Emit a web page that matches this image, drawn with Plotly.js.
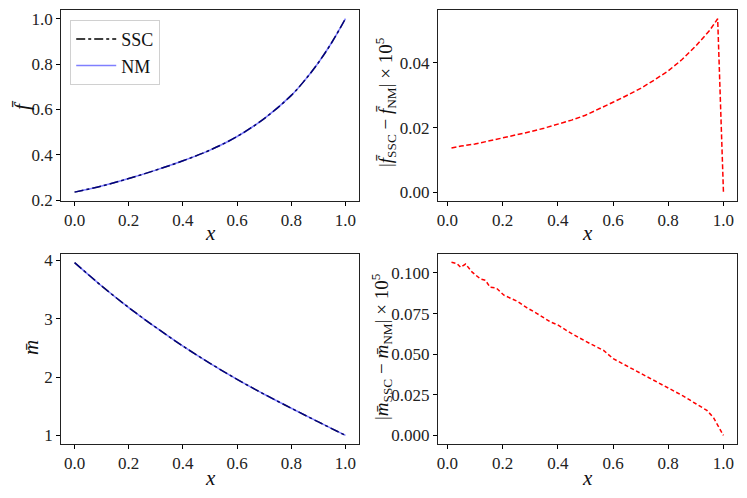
<!DOCTYPE html>
<html>
<head>
<meta charset="utf-8">
<script src="https://cdn.plot.ly/plotly-3.0.1.min.js"></script>
<style>html,body{margin:0;padding:0;background:#fff;}#chart{width:747px;height:498px;}</style>
</head>
<body>
<div id="chart"></div>
<script>
// ---- data ----
const xF = [0, 0.1, 0.2, 0.3, 0.4, 0.5, 0.6, 0.7, 0.8, 0.85, 0.9, 0.95, 1.0];
const fSSC = [0.236, 0.263, 0.296, 0.333, 0.374, 0.421, 0.481, 0.560, 0.662, 0.729, 0.806, 0.896, 1.0];
const fNM  = [0.236, 0.263, 0.296, 0.333, 0.374, 0.421, 0.481, 0.560, 0.662, 0.729, 0.806, 0.896, 1.0];

const xM = [0, 0.1, 0.2, 0.3, 0.4, 0.5, 0.6, 0.7, 0.8, 0.9, 1.0];
const mSSC = [3.96, 3.56, 3.19, 2.85, 2.53, 2.235, 1.96, 1.705, 1.465, 1.23, 1.00];
const mNM  = [3.96, 3.56, 3.19, 2.85, 2.53, 2.235, 1.96, 1.705, 1.465, 1.23, 1.00];

const xFerr = [0.015, 0.05, 0.1, 0.15, 0.2, 0.25, 0.3, 0.35, 0.4, 0.45, 0.5, 0.55, 0.6, 0.65, 0.7, 0.75, 0.8, 0.85, 0.9, 0.95, 0.979, 1.0];
const fErr  = [0.0137, 0.0143, 0.0149, 0.0158, 0.0168, 0.0177, 0.0187, 0.0198, 0.0210, 0.0223, 0.0238, 0.0257, 0.0278, 0.0299, 0.0321, 0.0347, 0.0375, 0.0410, 0.0452, 0.0500, 0.0536, 0.0];

const xMerr = [0.015, 0.035, 0.048, 0.066, 0.09, 0.12, 0.138, 0.155, 0.177, 0.205, 0.253, 0.289, 0.325, 0.375, 0.398, 0.446, 0.5, 0.566, 0.6, 0.686, 0.759, 0.8, 0.855, 0.9, 0.94, 0.964, 0.982, 1.0];
const mErr  = [0.1066, 0.1058, 0.1035, 0.1055, 0.1005, 0.0963, 0.0955, 0.0912, 0.0908, 0.0863, 0.0826, 0.0785, 0.075, 0.0697, 0.0682, 0.0631, 0.058, 0.0523, 0.0473, 0.0395, 0.033, 0.0293, 0.0242, 0.0195, 0.0154, 0.0109, 0.0051, 0.0];

const seriesNames = ['SSC', 'NM'];
const xTicks = [0, 0.2, 0.4, 0.6, 0.8, 1.0];
const axisTitles = {
  x: '<i>x</i>',
  f: '<i>f̄</i>',
  fErr: '|<i>f̄</i><sub>SSC</sub> − <i>f̄</i><sub>NM</sub>| × 10<sup>5</sup>',
  m: '<i>m̄</i>',
  mErr: '|<i>m̄</i><sub>SSC</sub> − <i>m̄</i><sub>NM</sub>| × 10<sup>5</sup>'
};

const FONT = "'Liberation Serif', 'Times New Roman', 'DejaVu Serif', serif";

const traces = [
  {x: xF, y: fSSC, xaxis: 'x', yaxis: 'y', mode: 'lines', name: seriesNames[0],
   line: {color: '#000', width: 1.5, dash: 'dashdot', shape: 'spline'}},
  {x: xF, y: fNM, xaxis: 'x', yaxis: 'y', mode: 'lines', name: seriesNames[1],
   line: {color: 'rgba(0,0,255,0.5)', width: 1.5, shape: 'spline'}},
  {x: xFerr, y: fErr, xaxis: 'x2', yaxis: 'y2', mode: 'lines', showlegend: false,
   line: {color: '#ff0000', width: 1.5, dash: '5px,2.5px'}},
  {x: xM, y: mSSC, xaxis: 'x3', yaxis: 'y3', mode: 'lines', showlegend: false,
   line: {color: '#000', width: 1.5, dash: 'dashdot', shape: 'spline'}},
  {x: xM, y: mNM, xaxis: 'x3', yaxis: 'y3', mode: 'lines', showlegend: false,
   line: {color: 'rgba(0,0,255,0.5)', width: 1.5, shape: 'spline'}},
  {x: xMerr, y: mErr, xaxis: 'x4', yaxis: 'y4', mode: 'lines', showlegend: false,
   line: {color: '#ff0000', width: 1.5, dash: '4px,2.5px'}}
];

function xax(domain, anchor, range) {
  return {
    domain: domain, anchor: anchor, range: range,
    tickvals: xTicks, tickformat: '.1f',
    ticks: 'outside', ticklen: 4, tickcolor: '#000', tickwidth: 1,
    showline: true, mirror: true, linecolor: '#222', linewidth: 1,
    showgrid: false, zeroline: false,
    tickfont: {family: FONT, size: 17, color: '#222'}
  };
}
function yax(domain, anchor, range, dtick, fmt) {
  return {
    domain: domain, anchor: anchor, range: range,
    dtick: dtick, tick0: 0, tickformat: fmt,
    ticks: 'outside', ticklen: 4, tickcolor: '#000', tickwidth: 1,
    showline: true, mirror: true, linecolor: '#222', linewidth: 1,
    showgrid: false, zeroline: false,
    tickfont: {family: FONT, size: 17, color: '#222'}
  };
}
function ann(text, x, y, angle, size) {
  return {text: text, x: x, y: y, xref: 'paper', yref: 'paper',
          xanchor: 'center', yanchor: 'middle', showarrow: false,
          textangle: angle, font: {family: FONT, size: size, color: '#111'}};
}

const layout = {
  width: 747, height: 498,
  margin: {l: 0, r: 0, t: 0, b: 0},
  paper_bgcolor: '#fff', plot_bgcolor: '#fff',
  font: {family: FONT, color: '#111'},
  showlegend: true,
  legend: {x: 0.094, y: 0.96, xanchor: 'left', yanchor: 'top',
           bgcolor: 'rgba(255,255,255,0.8)', bordercolor: '#d0d0d0', borderwidth: 1,
           font: {family: FONT, size: 18, color: '#111'}, itemwidth: 40},
  xaxis:  xax([0.0817, 0.4806], 'y',  [-0.05, 1.05]),
  yaxis:  yax([0.5964, 0.9799], 'x',  [0.197, 1.038], 0.2, '.1f'),
  xaxis2: xax([0.5863, 0.9866], 'y2', [-0.034, 1.049]),
  yaxis2: yax([0.5964, 0.9799], 'x2', [-0.00268, 0.0563], 0.02, '.2f'),
  xaxis3: xax([0.0817, 0.4806], 'y3', [-0.05, 1.05]),
  yaxis3: yax([0.1084, 0.4900], 'x3', [0.852, 4.108], 1, 'd'),
  xaxis4: xax([0.5863, 0.9866], 'y4', [-0.034, 1.049]),
  yaxis4: yax([0.1084, 0.4900], 'x4', [-0.0053, 0.1117], 0.025, '.3f'),
  annotations: [
    ann(axisTitles.x, 210 / 747, 1 - 233 / 498, 0, 21),
    ann(axisTitles.x, 587 / 747, 1 - 233 / 498, 0, 21),
    ann(axisTitles.x, 210 / 747, 1 - 478 / 498, 0, 21),
    ann(axisTitles.x, 587 / 747, 1 - 478 / 498, 0, 21),
    ann(axisTitles.f, 22 / 747, 1 - 105 / 498, -90, 21),
    ann(axisTitles.m, 31 / 747, 1 - 348 / 498, -90, 21),
    ann(axisTitles.fErr, 385 / 747, 1 - 102 / 498, -90, 19),
    ann(axisTitles.mErr, 381 / 747, 1 - 347 / 498, -90, 19)
  ]
};

Plotly.newPlot('chart', traces, layout, {displayModeBar: false, staticPlot: true});
</script>
</body>
</html>
